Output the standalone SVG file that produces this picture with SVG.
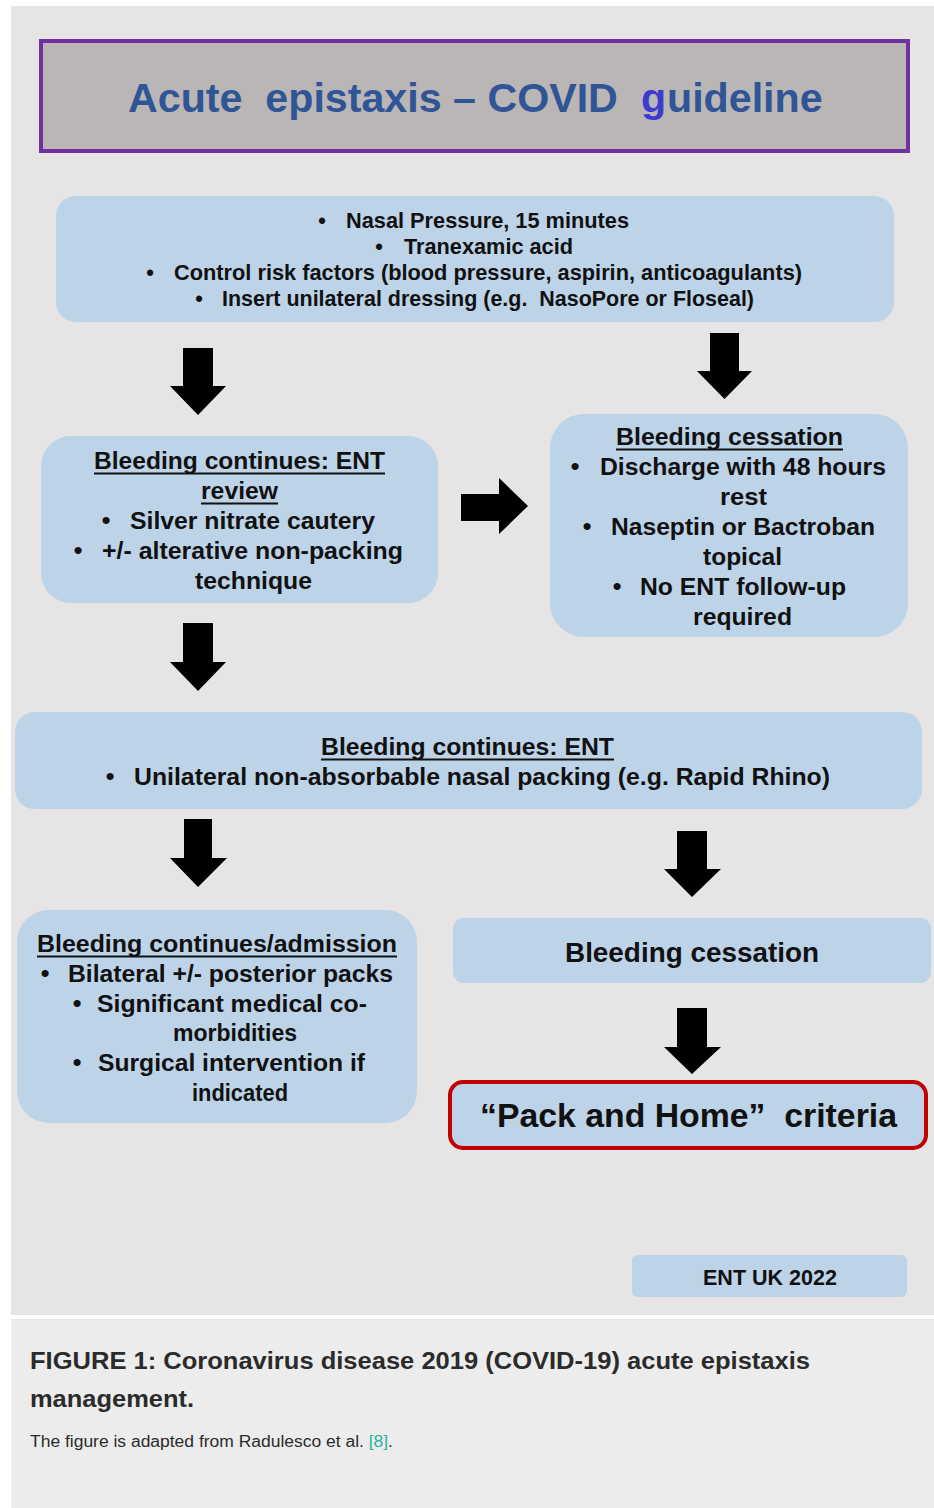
<svg xmlns="http://www.w3.org/2000/svg" width="934" height="1508" viewBox="0 0 934 1508">
<style>
.t{font-family:"Liberation Sans",Arial,sans-serif;font-weight:bold;fill:#111;}
.box{fill:#bcd3e8;}
.ul{stroke:#111;stroke-width:2;}
.arrow{fill:#000;}
.b{text-anchor:middle;}
.cap{font-family:"Liberation Sans",Arial,sans-serif;fill:#2b2b2b;}
.ttl{font-family:"Liberation Sans",Arial,sans-serif;font-weight:bold;font-size:41.2px;fill:#2f5597;}
</style>
<rect x="0" y="0" width="934" height="1508" fill="#ffffff"/>
<rect x="11" y="6" width="923" height="1309" fill="#e6e4e5"/>
<rect x="11" y="1319" width="923" height="189" fill="#ececec"/>

<g id="title">
<rect x="41" y="41" width="867" height="110" fill="#bab6b5" stroke="#7030a0" stroke-width="4"/>
<text class="ttl" x="128" y="112">Acute&#160; epistaxis – COVID</text>
<text class="ttl" x="641" y="112" style="fill:#3b3bd0">g</text>
<text class="ttl" x="667" y="112">uideline</text>
</g>

<g id="start">
<rect class="box" x="56" y="196" width="838" height="126" rx="20"/>
<text class="t b" x="322" y="228" font-size="21.8">•</text>
<text class="t" x="346" y="228" font-size="21.8" textLength="283" lengthAdjust="spacingAndGlyphs">Nasal Pressure, 15 minutes</text>
<text class="t b" x="379" y="254" font-size="21.8">•</text>
<text class="t" x="404" y="254" font-size="21.8" textLength="169" lengthAdjust="spacingAndGlyphs">Tranexamic acid</text>
<text class="t b" x="150" y="280" font-size="21.8">•</text>
<text class="t" x="174" y="280" font-size="21.8" textLength="628" lengthAdjust="spacingAndGlyphs">Control risk factors (blood pressure, aspirin, anticoagulants)</text>
<text class="t b" x="199" y="306" font-size="21.8">•</text>
<text class="t" x="222" y="306" font-size="21.8" textLength="532" lengthAdjust="spacingAndGlyphs">Insert unilateral dressing (e.g.&#160; NasoPore or Floseal)</text>
</g>

<g id="ent-review">
<rect class="box" x="41" y="436" width="397" height="167" rx="30"/>
<text class="t" x="94" y="469" font-size="24.8" textLength="291" lengthAdjust="spacingAndGlyphs">Bleeding continues: ENT</text>
<line class="ul" x1="94" y1="473.5" x2="385" y2="473.5"/>
<text class="t" x="201" y="499" font-size="24.8" textLength="77" lengthAdjust="spacingAndGlyphs">review</text>
<line class="ul" x1="201" y1="503.5" x2="278" y2="503.5"/>
<text class="t b" x="106" y="529" font-size="24.8">•</text>
<text class="t" x="130" y="529" font-size="24.8" textLength="245" lengthAdjust="spacingAndGlyphs">Silver nitrate cautery</text>
<text class="t b" x="78" y="559" font-size="24.8">•</text>
<text class="t" x="102" y="559" font-size="24.8" textLength="301" lengthAdjust="spacingAndGlyphs">+/- alterative non-packing</text>
<text class="t" x="195" y="589" font-size="24.8" textLength="117" lengthAdjust="spacingAndGlyphs">technique</text>
</g>

<g id="cessation-1">
<rect class="box" x="550" y="414" width="358" height="223" rx="34"/>
<text class="t" x="616" y="445" font-size="24.8" textLength="227" lengthAdjust="spacingAndGlyphs">Bleeding cessation</text>
<line class="ul" x1="616" y1="449.5" x2="843" y2="449.5"/>
<text class="t b" x="575" y="475" font-size="24.8">•</text>
<text class="t" x="600" y="475" font-size="24.8" textLength="286" lengthAdjust="spacingAndGlyphs">Discharge with 48 hours</text>
<text class="t" x="720" y="505" font-size="24.8" textLength="47" lengthAdjust="spacingAndGlyphs">rest</text>
<text class="t b" x="587" y="535" font-size="24.8">•</text>
<text class="t" x="611" y="535" font-size="24.8" textLength="264" lengthAdjust="spacingAndGlyphs">Naseptin or Bactroban</text>
<text class="t" x="703" y="565" font-size="24.8" textLength="79" lengthAdjust="spacingAndGlyphs">topical</text>
<text class="t b" x="617" y="595" font-size="24.8">•</text>
<text class="t" x="640" y="595" font-size="24.8" textLength="206" lengthAdjust="spacingAndGlyphs">No ENT follow-up</text>
<text class="t" x="693" y="625" font-size="24.8" textLength="99" lengthAdjust="spacingAndGlyphs">required</text>
</g>

<g id="ent-packing">
<rect class="box" x="15" y="712" width="907" height="97" rx="20"/>
<text class="t" x="321" y="755" font-size="24.8" textLength="293" lengthAdjust="spacingAndGlyphs">Bleeding continues: ENT</text>
<line class="ul" x1="321" y1="759.5" x2="614" y2="759.5"/>
<text class="t b" x="110" y="785" font-size="24.8">•</text>
<text class="t" x="134" y="785" font-size="24.8" textLength="696" lengthAdjust="spacingAndGlyphs">Unilateral non-absorbable nasal packing (e.g. Rapid Rhino)</text>
</g>

<g id="admission">
<rect class="box" x="17" y="910" width="400" height="213" rx="32"/>
<text class="t" x="37" y="952" font-size="24.8" textLength="360" lengthAdjust="spacingAndGlyphs">Bleeding continues/admission</text>
<line class="ul" x1="37" y1="956.5" x2="397" y2="956.5"/>
<text class="t b" x="45" y="982" font-size="24.8">•</text>
<text class="t" x="68" y="982" font-size="24.8" textLength="325" lengthAdjust="spacingAndGlyphs">Bilateral +/- posterior packs</text>
<text class="t b" x="77" y="1012" font-size="24.8">•</text>
<text class="t" x="97" y="1012" font-size="24.8" textLength="270" lengthAdjust="spacingAndGlyphs">Significant medical co-</text>
<text class="t" x="173" y="1041" font-size="24.8" textLength="124" lengthAdjust="spacingAndGlyphs">morbidities</text>
<text class="t b" x="77" y="1071" font-size="24.8">•</text>
<text class="t" x="98" y="1071" font-size="24.8" textLength="267" lengthAdjust="spacingAndGlyphs">Surgical intervention if</text>
<text class="t" x="192" y="1101" font-size="24.8" textLength="96" lengthAdjust="spacingAndGlyphs">indicated</text>
</g>

<g id="cessation-2">
<rect class="box" x="453" y="918" width="478" height="65" rx="11"/>
<text class="t" x="565" y="962" font-size="28" textLength="254" lengthAdjust="spacingAndGlyphs">Bleeding cessation</text>
</g>

<g id="pack-home">
<rect class="box" x="450" y="1082" width="476" height="66" rx="13" stroke="#c00000" stroke-width="4"/>
<text class="t" x="480" y="1127" font-size="34" textLength="417" lengthAdjust="spacingAndGlyphs">“Pack and Home”&#160; criteria</text>
</g>

<g id="ent-uk">
<rect class="box" x="632" y="1255" width="275" height="42" rx="6"/>
<text class="t" x="703" y="1285" font-size="21.5" textLength="134" lengthAdjust="spacingAndGlyphs">ENT UK 2022</text>
</g>

<g id="connectors">
<path class="arrow" d="M183,348 H213 V386 H226 L198,415 L170,386 H183 Z"/>
<path class="arrow" d="M710,333 H739 V371 H752 L724.5,399 L697,371 H710 Z"/>
<path class="arrow" d="M461,494 H499 V478 L528,506 L499,534 V521 H461 Z"/>
<path class="arrow" d="M183,623 H213 V662 H226 L198,691 L170,662 H183 Z"/>
<path class="arrow" d="M184,819 H212 V858 H227 L198,887 L170,858 H184 Z"/>
<path class="arrow" d="M677,831 H707 V869 H721 L692,897 L664,869 H677 Z"/>
<path class="arrow" d="M677,1008 H707 V1047 H721 L692,1074 L664,1047 H677 Z"/>
</g>

<g id="caption">
<text class="cap" x="30" y="1369" font-size="23" font-weight="bold" textLength="780" lengthAdjust="spacingAndGlyphs">FIGURE 1: Coronavirus disease 2019 (COVID-19) acute epistaxis</text>
<text class="cap" x="30" y="1407" font-size="23" font-weight="bold" textLength="164" lengthAdjust="spacingAndGlyphs">management.</text>
<text class="cap" x="30" y="1447" font-size="16" textLength="363" lengthAdjust="spacingAndGlyphs">The figure is adapted from Radulesco et al. <tspan style="fill:#2ab3a0">[8]</tspan>.</text>
</g>
</svg>
